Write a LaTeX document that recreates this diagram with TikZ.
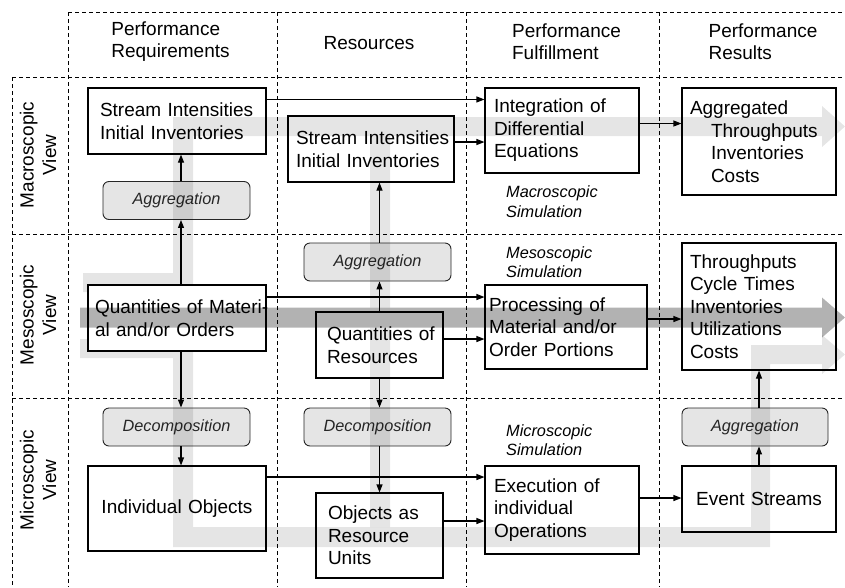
\documentclass[tikz,border=0pt]{standalone}
\usepackage{fontspec}
\setmainfont{Liberation Sans}
\usetikzlibrary{arrows.meta}

\begin{document}
\begin{tikzpicture}[x=1pt,y=-1pt,
    txt/.style={font={\fontsize{19}{22.5}\selectfont}},
    box/.style={txt,draw,line width=1.1pt,align=left,inner ysep=2pt},
    agg/.style={draw=black!85,line width=0.9pt,fill=black!10,rounded corners=6pt,
        minimum width=147pt,minimum height=38pt,text=black!85,
        font={\fontsize{16.3}{19.5}\selectfont\itshape}},
    sim/.style={font={\fontsize{16.3}{19.5}\selectfont\itshape},align=left,
        inner sep=0pt,anchor=west},
    grid/.style={dash pattern=on 4pt off 3pt,line width=0.9pt},
    flow/.style={fill=black,fill opacity=0.1},
    mainflow/.style={fill=black,fill opacity=0.3},
    link/.style={->,line width=1.1pt},
    >={Triangle[length=8pt,width=6pt]}]
\useasboundingbox (0,0) rectangle (845,587);

% grid
\draw[grid] (68,12) -- (845,12);
\draw[grid] (12,77) -- (845,77) (12,234) -- (845,234) (12,398) -- (845,398);
\draw[grid] (12,77) -- (12,587);
\foreach \x in {68,277,466,659} \draw[grid] (\x,12) -- (\x,587);

% headers
\node[txt,align=left] (hreq) at (170.5,41.5) {Performance\\Requirements};
\node[txt] (hres) at (369,43) {Resources};
\node[txt,align=left] (hful) at (566.5,41.5) {Performance\\Fulfillment};
\node[txt,align=left] (hout) at (763,41.5) {Performance\\Results};

\node[txt,align=center,rotate=90] (vmac) at (38,155) {Macroscopic\\View};
\node[txt,align=center,rotate=90] (vmes) at (38,315) {Mesoscopic\\View};
\node[txt,align=center,rotate=90] (vmic) at (38,480) {Microscopic\\View};

\node[agg] (agg1) at (176.5,200.5) {Aggregation};
\node[agg] (agg2) at (377.5,262) {Aggregation};
\node[agg] (dec1) at (176.5,427) {Decomposition};
\node[agg] (dec2) at (377.5,427) {Decomposition};
\node[agg,minimum width=146pt] (agg3) at (755,427) {Aggregation};

% light flows
\fill[flow] (83,273) -- (173,273) -- (173,117) -- (822,117) -- (822,106)
    -- (845,126.5) -- (822,147) -- (822,136) -- (193,136) -- (193,292)
    -- (83,292) -- cycle;
\fill[flow] (80,339) -- (193,339) -- (193,527) -- (751,527) -- (751,345)
    -- (822,345) -- (822,335) -- (845,354.5) -- (822,374) -- (822,364)
    -- (770,364) -- (770,547) -- (173,547) -- (173,358) -- (80,358) -- cycle;
\fill[flow] (370,136) rectangle (390,307.5) (370,327.5) rectangle (390,527);

\node[box,inner xsep=12pt,text width=154pt,minimum height=66pt] (reqmac) at (177,121)
    {\mbox{Stream Intensities}\\Initial Inventories};
\node[box,inner xsep=8pt,text width=150pt,minimum height=66pt] (resmac) at (371,149)
    {\mbox{Stream Intensities}\\Initial Inventories};
\node[box,inner xsep=9pt,text width=136pt,minimum height=85pt] (integ) at (562,130.5)
    {Integration of\\Differential\\Equations};
\node[box,inner xsep=8pt,text width=138pt,minimum height=107pt] (aggres) at (759,141.5)
    {Aggregated\\\hspace*{21pt}Throughputs\\\hspace*{21pt}Inventories\\\hspace*{21pt}Costs};
\node[box,fill=white,inner xsep=7pt,text width=164pt,minimum height=66pt] (matter) at (177,318)
    {\mbox{Quantities of Materi-}\\al and/or Orders};
\node[box,inner xsep=11pt,text width=105pt,minimum height=66pt] (resqty) at (379.5,345)
    {\mbox{Quantities of}\\Resources};
\node[box,inner xsep=4pt,text width=154pt,minimum height=84pt] (proc) at (566,327)
    {Processing of\\Material and/or\\Order Portions};
\node[box,inner xsep=8pt,text width=138pt,minimum height=127pt] (mesores) at (759,306.5)
    {Throughputs\\Cycle Times\\Inventories\\Utilizations\\Costs};
\node[box,align=center,inner xsep=8pt,text width=162pt,minimum height=85pt] (objects) at (177,508.5)
    {Individual Objects};
\node[box,inner xsep=12pt,text width=103pt,minimum height=85pt] (resunits) at (379.5,535.5)
    {Objects as\\Resource\\Units};
\node[box,inner xsep=9pt,text width=136pt,minimum height=88pt] (exec) at (562,510)
    {Execution of\\individual\\Operations};
\node[box,align=center,inner xsep=8pt,text width=138pt,minimum height=66pt] (events) at (759,499)
    {Event Streams};

\node[sim] (simmac) at (506,201.5) {Macroscopic\\Simulation};
\node[sim] (simmes) at (506,262) {Mesoscopic\\Simulation};
\node[sim] (simmic) at (506,440) {Microscopic\\Simulation};

% mesoscopic flow
\fill[mainflow] (80,307.5) -- (822,307.5) -- (822,297.5) -- (845,317.5)
    -- (822,337.5) -- (822,327.5) -- (80,327.5) -- cycle;

% links
\draw[link] ([xshift=4pt]matter.north) -- ([xshift=4pt]matter.north |- agg1.south);
\draw[link] ([xshift=4pt]matter.north |- agg1.north) -- ([xshift=4pt]matter.north |- reqmac.south);
\draw[link] ([xshift=4pt]matter.south) -- ([xshift=4pt]matter.south |- dec1.north);
\draw[link] ([xshift=4pt]matter.south |- dec1.south) -- ([xshift=4pt]matter.south |- objects.north);
\draw[link] (resqty.north) -- (resqty.north |- agg2.south);
\draw[link] (resqty.north |- agg2.north) -- (resqty.north |- resmac.south);
\draw[link] (resqty.south) -- (resqty.south |- dec2.north);
\draw[link] (resqty.south |- dec2.south) -- (resunits.north);
\draw[link] (events.north) -- (events.north |- agg3.south);
\draw[link] (events.north |- agg3.north) -- (mesores.south);

\draw[link] ([yshift=-12pt]reqmac.north east) -- ([yshift=-12pt]reqmac.north east -| integ.west);
\draw[link] ([yshift=7pt]resmac.east) -- ([yshift=7pt]resmac.east -| integ.west);
\draw[link] ([yshift=7pt]integ.east) -- ([yshift=7pt]integ.east -| aggres.west);
\draw[link] ([yshift=21pt]matter.east) -- ([yshift=21pt]matter.east -| proc.west);
\draw[link] ([yshift=6pt]resqty.east) -- ([yshift=6pt]resqty.east -| proc.west);
\draw[link] ([yshift=8pt]proc.east) -- ([yshift=8pt]proc.east -| mesores.west);
\draw[link] ([yshift=31.5pt]objects.east) -- ([yshift=31.5pt]objects.east -| exec.west);
\draw[link] ([yshift=14.5pt]resunits.east) -- ([yshift=14.5pt]resunits.east -| exec.west);
\draw[link] ([yshift=12pt]exec.east) -- ([yshift=12pt]exec.east -| events.west);
\end{tikzpicture}
\end{document}
